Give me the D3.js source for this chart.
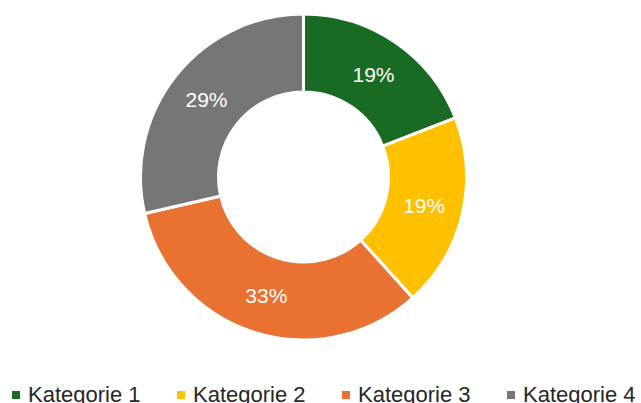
<!DOCTYPE html>
<html>
<head>
<meta charset="utf-8">
<script src="https://cdn.jsdelivr.net/npm/d3@7"></script>
<style>
  body { margin: 0; background: #fff; }
  svg { display: block; font-family: "Liberation Sans", Arial, sans-serif; }
</style>
</head>
<body>
<svg id="chart" width="641" height="403"></svg>
<script>
// Daten
const categories = ["Kategorie 1", "Kategorie 2", "Kategorie 3", "Kategorie 4"];
const values = [19.1, 19.2, 33.1, 28.6];
const colors = ["#196B24", "#FFC000", "#E97132", "#767676"];

const width = 641, height = 403;
const svg = d3.select("#chart");

const data = categories.map((c, i) => ({ label: c, value: values[i] }));
const total = d3.sum(values);

const color = d3.scaleOrdinal().domain(categories).range(colors);

// Ring
const cx = 303.5, cy = 177;
const outerR = 163, innerR = 85;

const pie = d3.pie().value(d => d.value).sort(null);
const arc = d3.arc().innerRadius(innerR).outerRadius(outerR);

const g = svg.append("g").attr("transform", `translate(${cx},${cy})`);

const arcs = g.selectAll(".arc")
  .data(pie(data))
  .enter()
  .append("g")
  .classed("arc", true);

arcs.append("path")
  .attr("d", arc)
  .attr("fill", d => color(d.data.label))
  .attr("stroke", "#fff")
  .attr("stroke-width", 3);

// Prozent-Beschriftungen
arcs.append("text")
  .attr("transform", d => `translate(${arc.centroid(d)})`)
  .attr("text-anchor", "middle")
  .attr("dy", "0.36em")
  .attr("fill", "#fff")
  .style("font-size", "21px")
  .text(d => Math.round(d.data.value / total * 100) + "%");

// Legende
const legendX = d3.scaleLinear().domain([0, categories.length - 1]).range([12, 507]);
const legendItems = svg.append("g")
  .classed("legend", true)
  .selectAll(".legend-item")
  .data(data)
  .enter()
  .append("g")
  .classed("legend-item", true)
  .attr("transform", (d, i) => `translate(${legendX(i)}, 391)`);

legendItems.append("rect")
  .attr("width", 8)
  .attr("height", 8)
  .attr("fill", d => color(d.label));

legendItems.append("text")
  .attr("x", 16)
  .attr("y", 10.5)
  .attr("fill", "#262626")
  .style("font-size", "22px")
  .text(d => d.label);
</script>
</body>
</html>
